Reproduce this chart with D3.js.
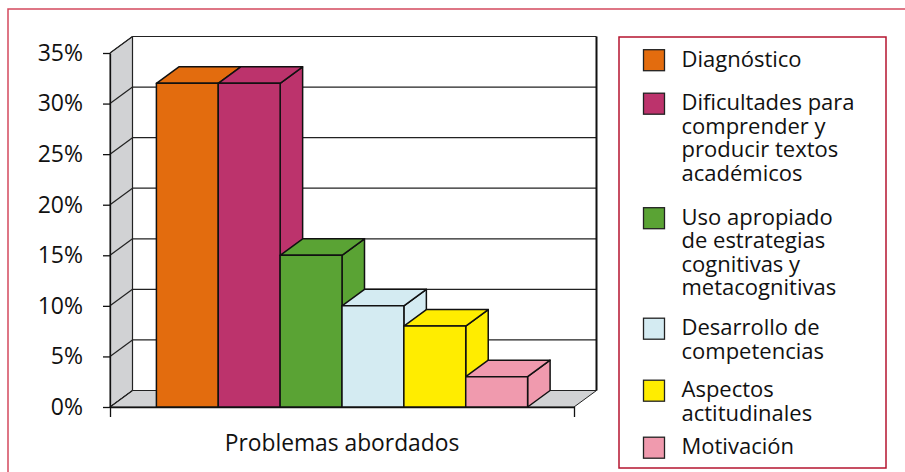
<!DOCTYPE html>
<html>
<head>
<meta charset="utf-8">
<script src="https://cdn.jsdelivr.net/npm/d3@7"></script>
<style>
  body { margin: 0; background: #fff; }
  svg { display: block; font-family: "Open Sans", "Noto Sans", sans-serif; }
</style>
</head>
<body>
<svg id="chart" width="905" height="472"></svg>
<script>
// categoria unica y sus seis series
var categories = ["Problemas abordados"];
var series = [
    "Diagnóstico",
    "Dificultades para comprender y producir textos académicos",
    "Uso apropiado de estrategias cognitivas y metacognitivas",
    "Desarrollo de competencias",
    "Aspectos actitudinales",
    "Motivación"
];
var legendLines = [
    ["Diagnóstico"],
    ["Dificultades para", "comprender y", "producir textos", "académicos"],
    ["Uso apropiado", "de estrategias", "cognitivas y", "metacognitivas"],
    ["Desarrollo de", "competencias"],
    ["Aspectos", "actitudinales"],
    ["Motivación"]
];
var values = [32, 32, 15, 10, 8, 3];
var yTicks = [0, 5, 10, 15, 20, 25, 30, 35];

var palette = ["#e36c0e", "#bc336c", "#5aa334", "#d4ebf2", "#ffed00", "#f09aae"];

var svg = d3.select("#chart"),
    width = +svg.attr("width"),
    height = +svg.attr("height");

// profundidad del efecto 3D
var dx = 22.5, dy = -16.5;
var wallGrey = "#d1d2d4";

var color = d3.scaleOrdinal().domain(series).range(palette);

var x = d3.scaleBand()
    .domain(categories)
    .range([110, 574])
    .paddingOuter(0.125);

var xs = d3.scaleBand()
    .domain(series)
    .range([0, x.bandwidth()]);

var y = d3.scaleLinear()
    .domain([0, 35])
    .range([407, 53]);

var x0 = x.range()[0], x1 = x.range()[1];

// marco exterior
svg.append("path")
    .attr("d", "M" + 8 + "," + (height + 5) + "V9H" + (width + 5))
    .attr("fill", "none")
    .attr("stroke", "#d4495d")
    .attr("stroke-width", 1.5);

function pts(a) { return a.map(function(p) { return p.join(","); }).join(" "); }

var walls = svg.append("g");

// pared lateral
walls.append("polygon")
    .attr("points", pts([[x0, y(35)], [x0 + dx, y(35) + dy], [x0 + dx, y(0) + dy], [x0, y(0)]]))
    .attr("fill", wallGrey)
    .attr("stroke", "#222")
    .attr("stroke-width", 1);

// piso
walls.append("polygon")
    .attr("points", pts([[x0, y(0)], [x0 + dx, y(0) + dy], [x1 + dx, y(0) + dy], [x1, y(0)]]))
    .attr("fill", wallGrey)
    .attr("stroke", "#222")
    .attr("stroke-width", 1);

// pared del fondo
walls.append("rect")
    .attr("x", x0 + dx)
    .attr("y", y(35) + dy)
    .attr("width", x1 - x0)
    .attr("height", y(0) - y(35))
    .attr("fill", "#fff");

var grid = walls.selectAll(".grid")
    .data(yTicks)
    .enter().append("g")
    .attr("class", "grid");

grid.append("line")
    .attr("x1", x0 + dx)
    .attr("x2", x1 + dx)
    .attr("y1", function(d) { return y(d) + dy; })
    .attr("y2", function(d) { return y(d) + dy; })
    .attr("stroke", "#222")
    .attr("stroke-width", 1.2);

grid.append("line")
    .attr("x1", x0)
    .attr("x2", x0 + dx)
    .attr("y1", function(d) { return y(d); })
    .attr("y2", function(d) { return y(d) + dy; })
    .attr("stroke", "#222")
    .attr("stroke-width", 1.2);

walls.append("line")
    .attr("x1", x0 + dx).attr("x2", x0 + dx)
    .attr("y1", y(35) + dy).attr("y2", y(0) + dy)
    .attr("stroke", "#222")
    .attr("stroke-width", 1.2);

walls.append("line")
    .attr("x1", x1 + dx).attr("x2", x1 + dx)
    .attr("y1", y(35) + dy).attr("y2", y(0) + dy)
    .attr("stroke", "#111")
    .attr("stroke-width", 2);

// ejes
var yAxis = svg.append("g")
    .attr("transform", "translate(" + x0 + ",0)")
    .call(d3.axisLeft(y)
        .tickValues(yTicks)
        .tickSize(7)
        .tickSizeOuter(0)
        .tickPadding(20)
        .tickFormat(function(d) { return d + "%"; }));

yAxis.selectAll("path, line").attr("stroke", "#111").attr("stroke-width", 1.3);
yAxis.selectAll("text")
    .attr("font-family", "'Open Sans', 'Noto Sans', sans-serif")
    .attr("font-size", 23)
    .attr("fill", "#111");

var xAxis = svg.append("g")
    .attr("transform", "translate(0," + y(0) + ")")
    .call(d3.axisBottom(x)
        .tickSizeInner(0)
        .tickSizeOuter(10)
        .tickPadding(28));

xAxis.selectAll("path").attr("stroke", "#111").attr("stroke-width", 1.3);
xAxis.selectAll("text")
    .attr("font-family", "'Open Sans', 'Noto Sans', sans-serif")
    .attr("font-size", 22.8)
    .attr("fill", "#111");

// barras 3D, de izquierda a derecha
var bars = svg.append("g")
    .selectAll(".bar")
    .data(series.map(function(s, i) { return { name: s, value: values[i] }; }))
    .enter().append("g")
    .attr("class", "bar")
    .attr("stroke", "#111")
    .attr("stroke-width", 1.5)
    .attr("stroke-linejoin", "round")
    .attr("fill", function(d) { return color(d.name); });

function bx(d) { return x(categories[0]) + xs(d.name); }

bars.append("polygon")
    .attr("points", function(d) {
        var a = bx(d) + xs.bandwidth(), t = y(d.value), b = y(0);
        return pts([[a, t], [a + dx, t + dy], [a + dx, b + dy], [a, b]]);
    });

bars.append("polygon")
    .attr("points", function(d) {
        var a = bx(d), w = xs.bandwidth(), t = y(d.value);
        return pts([[a, t], [a + dx, t + dy], [a + w + dx, t + dy], [a + w, t]]);
    });

bars.append("rect")
    .attr("x", bx)
    .attr("y", function(d) { return y(d.value); })
    .attr("width", xs.bandwidth())
    .attr("height", function(d) { return y(0) - y(d.value); });

// leyenda
var legend = svg.append("g");

legend.append("rect")
    .attr("x", 619)
    .attr("y", 37)
    .attr("width", 267)
    .attr("height", 431)
    .attr("fill", "none")
    .attr("stroke", "#b5152f")
    .attr("stroke-width", 1.5);

var lineH = 23.5;
var gaps = [0, 20, 20.5, 16.5, 15, 10];
var startY = [];
var yy = 66.7;
legendLines.forEach(function(lines, i) {
    if (i > 0) yy += lineH * legendLines[i - 1].length + gaps[i];
    startY.push(yy);
});

var item = legend.selectAll(".item")
    .data(series)
    .enter().append("g")
    .attr("class", "item")
    .attr("transform", function(d, i) { return "translate(0," + startY[i] + ")"; });

item.append("rect")
    .attr("x", 643.5)
    .attr("y", -17)
    .attr("width", 21)
    .attr("height", 21)
    .attr("fill", function(d) { return color(d); })
    .attr("stroke", "#222")
    .attr("stroke-width", 1.3);

item.append("text")
    .attr("x", 681.5)
    .attr("font-size", 22)
    .attr("fill", "#111")
    .selectAll("tspan")
    .data(function(d, i) { return legendLines[i]; })
    .enter().append("tspan")
    .attr("x", 681.5)
    .attr("y", function(d, j) { return j * lineH; })
    .text(function(d) { return d; });
</script>
</body>
</html>
